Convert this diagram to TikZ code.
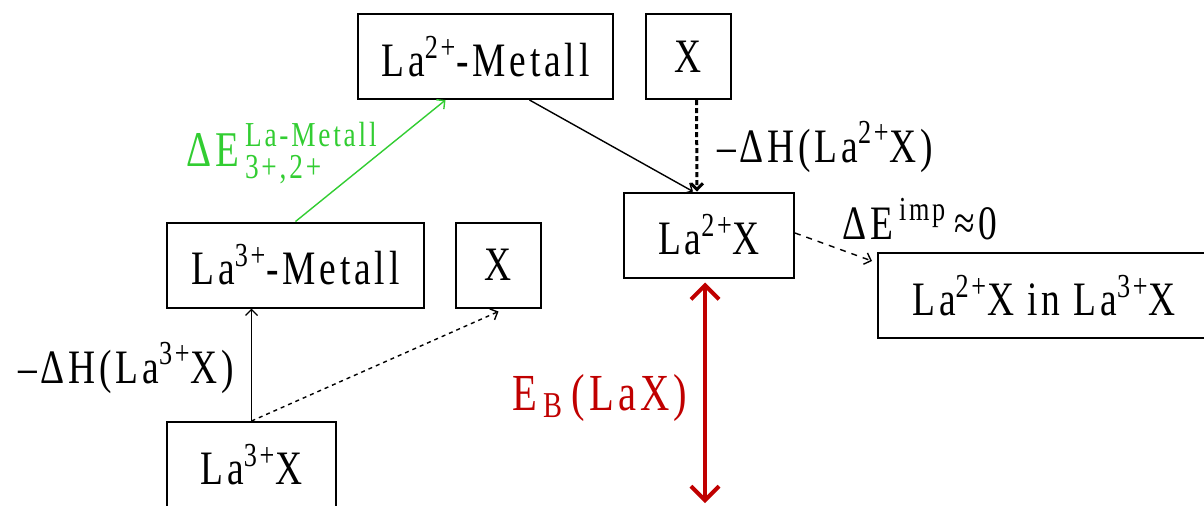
\documentclass[tikz,border=0pt]{standalone}
\usepackage{amsmath}
\usepackage{fontspec}
\setmainfont{Liberation Serif}[FakeStretch=0.78,LetterSpace=8]
\usetikzlibrary{arrows.meta}
\definecolor{lagreen}{RGB}{50,205,50}
\definecolor{lared}{RGB}{192,0,0}

\begin{document}
\begin{tikzpicture}[x=0.5pt,y=-0.5pt,
    box/.style={draw,line width=1pt,inner sep=0pt,minimum height=42.5pt,
                font=\fontsize{24}{28}\selectfont},
    lbl/.style={font=\fontsize{24}{28}\selectfont,inner sep=0pt},
    arr/.style={-{Straight Barb[length=3pt,width=6pt]},line width=0.7pt},
    dots/.style={dash pattern=on 2pt off 2pt},
  ]
    \useasboundingbox (0,0) rectangle (1204,505);
    % boxes
    \node[box,minimum width=127.5pt](m2) at (485.5,56.5){La\textsuperscript{2+}-Metall};
    \node[box,minimum width=42.5pt](xtop) at (688.5,56.5){X};
    \node[box,minimum width=128.5pt](m3) at (295.5,265){La\textsuperscript{3+}-Metall};
    \node[box,minimum width=42.5pt](xmid) at (498.5,265){X};
    \node[box,minimum width=84.5pt](l3x) at (251.5,464.5){La\textsuperscript{3+}X};
    \node[box,minimum width=85pt](l2x) at (709,235){La\textsuperscript{2+}X};
    \node[box,minimum width=166pt](imp) at (1044,295.5){La\textsuperscript{2+}X in La\textsuperscript{3+}X};
    \coordinate (ebot) at (705,503);
    % connectors
    \draw[arr,lagreen](m3.north)--([xshift=-20pt]m2.south);
    \draw[arr]([xshift=22pt]m2.south)--([xshift=-8pt]l2x.north);
    \draw[arr,line width=1.5pt,dash pattern=on 2.5pt off 1.5pt]([xshift=4pt]xtop.south)--([xshift=-6pt]l2x.north);
    \draw[arr,dashed]([yshift=1pt]l2x.east)--([xshift=-2.5pt,yshift=-4.5pt]imp.north west);
    \draw[arr](l3x.north)--(l3x.north |- m3.south);
    \draw[arr,dots](l3x.north)--([yshift=-1.5pt]xmid.south);
    \draw[{Straight Barb[length=7pt,width=14pt]}-{Straight Barb[length=7pt,width=14pt]},
          line width=2pt,lared]([xshift=-2pt,yshift=-2pt]l2x.south)--(ebot);
    % labels
    \node[lbl,lagreen](gl) at (282,153){\fontsize{25}{30}\selectfont$\text{ΔE}^{\,\text{La-Metall}}_{\,\text{3+,2+}}$};
    \node[lbl](h2) at (825,147){–ΔH(La\textsuperscript{2+}X)};
    \node[lbl](ei) at (920,219){$\text{ΔE}^{\,\text{imp}}$\,≈0};
    \node[lbl](h3) at (126,368){–ΔH(La\textsuperscript{3+}X)};
    \node[lbl,lared](eb) at (600,398){\fontsize{26}{30}\selectfont$\text{E}_{\,\text{B}}$\,(LaX)};
\end{tikzpicture}
\end{document}
